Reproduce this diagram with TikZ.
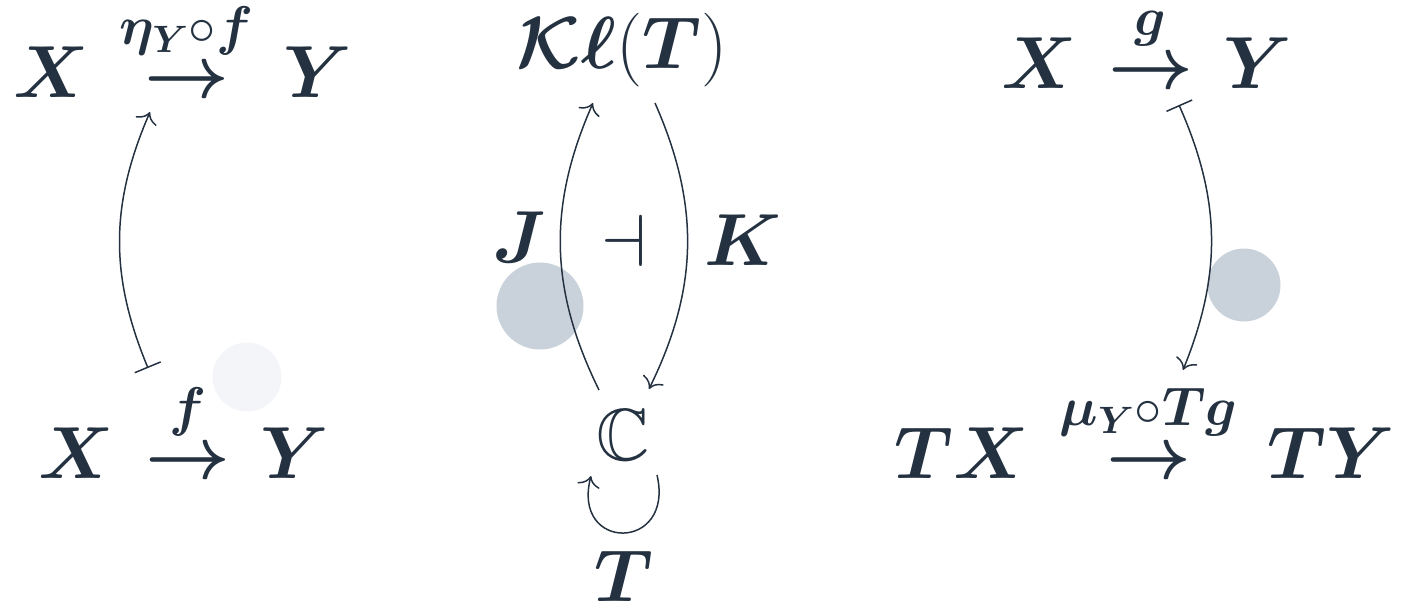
\RequirePackage{fix-cm}
\documentclass[tikz,border=0pt]{standalone}
\usepackage{amsmath,amssymb,bm}
\usepackage{tikz}
\usetikzlibrary{arrows.meta,calc}
\definecolor{ink}{HTML}{243140}
\definecolor{dotgrey}{HTML}{C9D2DA}
\definecolor{dotpale}{HTML}{F4F5F9}

\newcommand{\cdarrow}[1]{\mathrel{\mkern2.5mu\overset{\raisebox{5pt}{\fontsize{31}{34}\selectfont$#1$}}{\bm{\to}}\mkern2.5mu}}

\tikzset{
  bigmath/.style={font=\fontsize{42}{50}\selectfont, inner sep=0pt, anchor=base, text=ink},
  lab/.style={font=\fontsize{42}{50}\selectfont, inner sep=0pt, text=ink},
  arr/.style={draw=ink, line width=0.85pt, -{Computer Modern Rightarrow[length=6pt,width=13pt]}},
  mapsto/.style={draw=ink, line width=0.85pt, {Bar[width=16pt]}-{Computer Modern Rightarrow[length=6pt,width=13pt]}},
}

\begin{document}
\begin{tikzpicture}[x=0.02cm, y=-0.02cm]
    \useasboundingbox (0,0) rectangle (1404,603);

    \fill[dotpale] (247,377) circle (0.69cm);
    \fill[dotgrey] (540,306) circle (0.87cm);
    \fill[dotgrey] (1244,285) circle (0.73cm);

    \node[bigmath] (ftop) at (183,97) {$\bm{X} \cdarrow{\bm{\eta}_{\bm{Y}}{\circ}\bm{f}} \bm{Y}$};
    \node[bigmath] (fbot) at (184,478) {$\bm{X} \cdarrow{\bm{f}} \bm{Y}$};

    \node[bigmath] (kl) at (622,68) {$\bm{\mathcal{K}}\bm{\ell}(\bm{T})$};
    \node[bigmath] (adj) at (624,266) {$\dashv$};
    \node[bigmath] (cat) at (623,460) {$\mathbb{C}$};
    \node[bigmath] (mon) at (624,601) {$\bm{T}$};

    \node[bigmath] (gtop) at (1147,88) {$\bm{X} \cdarrow{\bm{g}} \bm{Y}$};
    \node[bigmath] (gbot) at (1145,478) {$\bm{TX} \cdarrow{\bm{\mu}_{\bm{Y}}{\circ}\bm{Tg}} \bm{TY}$};

    \draw[mapsto] ($(fbot.base)+(-36,-110)$) to[bend left=23] ($(ftop.base)+(-33,15)$);

    \draw[arr] ($(cat.base)+(-24,-70)$) to[bend left=25] node[midway, left=7.5pt, yshift=6pt, lab] {$\bm{J}$} ($(kl.base)+(-29,35)$);
    \draw[arr] ($(kl.base)+(33,35)$) to[bend left=25] node[midway, right=9pt, yshift=4pt, lab] {$\bm{K}$} ($(cat.base)+(26,-71)$);
    \draw[arr] ($(cat.base)+(34,15)$) .. controls ($(cat.base)+(52,92)$) and ($(cat.base)+(-52,92)$) .. ($(cat.base)+(-32,16)$);

    \draw[mapsto] ($(gtop.base)+(32,17)$) to[bend left=23] ($(gbot.base)+(38,-108)$);
\end{tikzpicture}
\end{document}
